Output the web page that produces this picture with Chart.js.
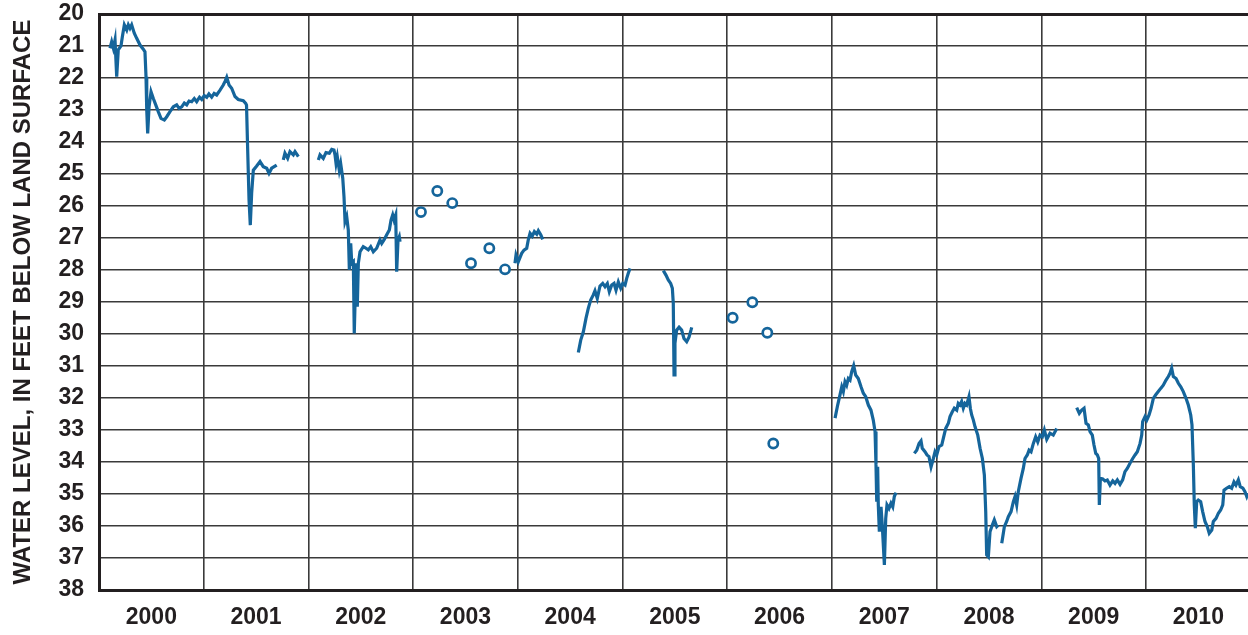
<!DOCTYPE html>
<html>
<head>
<meta charset="utf-8">
<script src="https://cdn.jsdelivr.net/npm/chart.js@4.4.1/dist/chart.umd.min.js"></script>
<style>
  html, body { margin: 0; padding: 0; background: #ffffff; overflow: hidden; }
  #wrap { width: 1248px; height: 635px; }
</style>
</head>
<body>
<div id="wrap"><canvas id="chart" width="1248" height="635"></canvas></div>
<script>
// Continuous recorder record, depth to water (feet below land surface) by decimal year.
// Each array is one unbroken run of the recorder; gaps fall between arrays.
const rec2000 = [
  [2000.105,21.07],[2000.121,20.87],[2000.137,21.07],[2000.153,20.81],[2000.169,21.96],[2000.184,21.12],
  [2000.210,21.00],[2000.223,20.71],[2000.242,20.34],[2000.265,20.50],[2000.280,20.34],[2000.296,20.45],
  [2000.312,20.34],[2000.337,20.60],[2000.360,20.76],[2000.392,20.97],[2000.423,21.10],[2000.439,21.18],
  [2000.449,21.96],[2000.456,23.00],[2000.465,23.73],[2000.478,22.90],[2000.497,22.43],[2000.519,22.64],
  [2000.542,22.84],[2000.566,23.05],[2000.592,23.26],[2000.624,23.31],[2000.647,23.21],[2000.678,23.05],
  [2000.710,22.90],[2000.742,22.84],[2000.765,22.95],[2000.790,22.90],[2000.815,22.78],[2000.838,22.84],
  [2000.860,22.72],[2000.885,22.74],[2000.910,22.64],[2000.933,22.74],[2000.960,22.60],[2000.981,22.67],
  [2001.005,22.55],[2001.029,22.60],[2001.050,22.50],[2001.076,22.60],[2001.100,22.48],[2001.124,22.53],
  [2001.156,22.38],[2001.187,22.22],[2001.205,22.10],[2001.220,21.98],[2001.242,22.22],[2001.267,22.32],
  [2001.299,22.58],[2001.330,22.67],[2001.378,22.71],[2001.401,22.79],[2001.409,22.85],[2001.418,24.00],
  [2001.433,25.81],[2001.445,26.60],[2001.458,25.60],[2001.474,24.88],[2001.506,24.75],[2001.538,24.61],
  [2001.569,24.77],[2001.602,24.82],[2001.624,24.98],[2001.649,24.82],[2001.697,24.72]
];
const rec2001 = [
  [2001.760,24.56],[2001.776,24.35],[2001.802,24.51],[2001.824,24.30],[2001.856,24.40],[2001.872,24.30],[2001.904,24.46]
];
const rec2002 = [
  [2002.095,24.56],[2002.111,24.40],[2002.142,24.51],[2002.168,24.33],[2002.200,24.35],[2002.223,24.23],
  [2002.244,24.25],[2002.254,24.40],[2002.264,24.67],[2002.276,24.46],[2002.295,24.88],[2002.308,24.67],
  [2002.328,25.13],[2002.340,25.71],[2002.350,26.49],[2002.366,26.33],[2002.381,26.75],[2002.391,28.00],
  [2002.404,27.17],[2002.414,27.79],[2002.429,27.74],[2002.438,29.98],[2002.455,27.79],[2002.467,29.15],
  [2002.477,27.79],[2002.493,27.43],[2002.524,27.27],[2002.550,27.32],[2002.572,27.37],[2002.595,27.27],
  [2002.620,27.43],[2002.652,27.32],[2002.684,27.06],[2002.700,27.17],[2002.722,27.06],[2002.748,26.90],
  [2002.773,26.75],[2002.789,26.44],[2002.805,26.28],[2002.818,26.44],[2002.834,26.28],[2002.843,28.05],
  [2002.856,27.06],[2002.868,26.96],[2002.875,27.12]
];
const rec2004a = [
  [2003.973,27.79],[2003.983,27.53],[2004.005,27.74],[2004.037,27.48],[2004.059,27.38],[2004.085,27.32],
  [2004.100,27.06],[2004.117,26.85],[2004.138,26.94],[2004.158,26.80],[2004.181,26.88],[2004.196,26.77],
  [2004.219,26.90],[2004.238,27.04]
];
const rec2004b = [
  [2004.578,30.58],[2004.601,30.19],[2004.626,29.93],[2004.651,29.51],[2004.673,29.20],[2004.696,28.94],
  [2004.721,28.78],[2004.737,28.65],[2004.759,28.89],[2004.785,28.50],[2004.811,28.42],[2004.833,28.52],
  [2004.855,28.42],[2004.874,28.68],[2004.897,28.47],[2004.919,28.42],[2004.938,28.63],[2004.960,28.37],
  [2004.983,28.57],[2005.002,28.42],[2005.024,28.47],[2005.040,28.26],[2005.055,28.10],[2005.072,27.95]
];
const rec2005 = [
  [2005.390,28.02],[2005.415,28.16],[2005.437,28.31],[2005.460,28.42],[2005.476,28.57],[2005.485,29.04],
  [2005.492,31.28],[2005.501,30.29],[2005.517,29.88],[2005.540,29.79],[2005.565,29.88],[2005.587,30.14],
  [2005.613,30.24],[2005.635,30.10],[2005.654,29.88],[2005.661,29.79]
];
const rec2007 = [
  [2007.030,32.63],[2007.055,32.22],[2007.077,31.90],[2007.094,31.65],[2007.109,31.80],[2007.125,31.49],
  [2007.141,31.60],[2007.157,31.39],[2007.173,31.44],[2007.189,31.18],[2007.208,30.99],[2007.227,31.28],
  [2007.252,31.39],[2007.278,31.65],[2007.300,31.85],[2007.323,31.96],[2007.348,32.22],[2007.373,32.38],
  [2007.395,32.69],[2007.412,33.05],[2007.421,34.09],[2007.428,35.24],[2007.437,34.15],[2007.443,35.34],
  [2007.453,36.18],[2007.469,35.40],[2007.481,35.97],[2007.501,37.22],[2007.514,35.76],[2007.526,35.34],
  [2007.545,35.45],[2007.564,35.29],[2007.581,35.40],[2007.596,35.08],[2007.612,34.96]
];
const rec2008a = [
  [2007.787,33.73],[2007.810,33.63],[2007.832,33.42],[2007.851,33.34],[2007.863,33.57],[2007.889,33.68],
  [2007.908,33.78],[2007.927,33.83],[2007.947,34.15],[2007.969,33.89],[2007.985,33.68],[2008.001,33.78],
  [2008.023,33.52],[2008.049,33.47],[2008.064,33.26],[2008.087,32.95],[2008.112,32.79],[2008.128,32.58],
  [2008.150,32.43],[2008.169,32.32],[2008.192,32.38],[2008.207,32.17],[2008.223,32.22],[2008.239,32.11],
  [2008.255,32.32],[2008.271,32.17],[2008.287,32.22],[2008.309,31.96],[2008.322,32.32],[2008.335,32.53],
  [2008.351,32.69],[2008.367,32.90],[2008.393,33.16],[2008.415,33.57],[2008.437,33.89],[2008.456,34.41],
  [2008.469,35.55],[2008.478,36.90],[2008.494,36.96],[2008.510,36.18],[2008.532,35.97],[2008.551,35.81],
  [2008.574,36.02],[2008.589,35.97]
];
const rec2008b = [
  [2008.622,36.54],[2008.647,36.02],[2008.669,35.86],[2008.685,35.71],[2008.711,35.55],[2008.733,35.24],
  [2008.749,35.08],[2008.765,35.34],[2008.780,34.93],[2008.806,34.51],[2008.828,34.20],[2008.844,33.89],
  [2008.866,33.78],[2008.883,33.63],[2008.902,33.68],[2008.924,33.42],[2008.946,33.21],[2008.966,33.37],
  [2008.988,33.16],[2009.010,33.21],[2009.029,33.00],[2009.052,33.29],[2009.083,33.10],[2009.114,33.16],
  [2009.147,32.95]
];
const rec2009 = [
  [2009.338,32.30],[2009.363,32.48],[2009.386,32.38],[2009.408,32.32],[2009.427,32.79],[2009.449,32.84],
  [2009.465,33.05],[2009.487,33.16],[2009.503,33.47],[2009.520,33.73],[2009.535,33.78],[2009.548,33.89],
  [2009.554,35.34],[2009.564,34.51],[2009.587,34.53],[2009.608,34.59],[2009.630,34.56],[2009.656,34.72],
  [2009.682,34.59],[2009.704,34.67],[2009.726,34.56],[2009.752,34.70],[2009.777,34.56],[2009.799,34.30],
  [2009.821,34.20],[2009.847,34.04],[2009.873,33.89],[2009.895,33.78],[2009.917,33.68],[2009.943,33.42],
  [2009.959,33.16],[2009.968,32.74],[2009.991,32.58],[2010.007,32.69],[2010.029,32.53],[2010.048,32.32],
  [2010.070,32.01],[2010.093,31.90],[2010.117,31.80],[2010.140,31.70],[2010.165,31.60],[2010.191,31.44],
  [2010.213,31.33],[2010.229,31.23],[2010.245,31.07],[2010.261,31.33],[2010.287,31.39],[2010.309,31.54],
  [2010.332,31.65],[2010.356,31.80],[2010.382,32.01],[2010.404,32.22],[2010.427,32.53],[2010.439,32.84],
  [2010.452,34.09],[2010.461,35.34],[2010.471,36.07],[2010.484,35.24],[2010.499,35.19],[2010.522,35.24],
  [2010.541,35.55],[2010.563,35.86],[2010.585,36.02],[2010.604,36.23],[2010.628,36.13],[2010.643,35.86],
  [2010.669,35.76],[2010.691,35.60],[2010.713,35.50],[2010.733,35.34],[2010.745,34.88],[2010.769,34.82],
  [2010.795,34.77],[2010.818,34.82],[2010.840,34.62],[2010.859,34.72],[2010.882,34.56],[2010.900,34.77],
  [2010.925,34.82],[2010.945,34.93],[2010.962,35.08],[2010.974,34.98]
];

// Periodic field (tape) measurements
const fieldYears  = [2003.075, 2003.231, 2003.374, 2003.553, 2003.728, 2003.878, 2006.052, 2006.240, 2006.383, 2006.440];
const fieldLevels = [26.19,    25.53,    25.91,    27.79,    27.32,    27.98,    29.49,    29.01,    29.96,    33.42];

// Axis labels
const yearLabels = ['2000','2001','2002','2003','2004','2005','2006','2007','2008','2009','2010'];
const depthTicks = [20,21,22,23,24,25,26,27,28,29,30,31,32,33,34,35,36,37,38];

const recorderRuns = [rec2000, rec2001, rec2002, rec2004a, rec2004b, rec2005, rec2007, rec2008a, rec2008b, rec2009];

// Join the runs into one series, with a null between runs so the line breaks.
const recorderPoints = [];
recorderRuns.forEach((run, i) => {
  if (i > 0) {
    const prev = recorderRuns[i - 1];
    recorderPoints.push({ x: (prev[prev.length - 1][0] + run[0][0]) / 2, y: null });
  }
  run.forEach(([x, y]) => recorderPoints.push({ x, y }));
});
const fieldPoints = fieldYears.map((x, i) => ({ x, y: fieldLevels[i] }));

const INK = '#231f20';
const GRID = '#3a3a3a';
const BLUE = '#15659b';
const FONT = '"Liberation Sans", Arial, Helvetica, sans-serif';

const xStart = 2000;
const xEnd = 2010.974;

new Chart(document.getElementById('chart'), {
  data: {
    datasets: [
      {
        type: 'scatter',
        data: fieldPoints,
        showLine: false,
        pointRadius: 4.6,
        pointBorderWidth: 2.7,
        pointBorderColor: BLUE,
        pointBackgroundColor: '#ffffff',
        order: 0
      },
      {
        type: 'line',
        data: recorderPoints,
        borderColor: BLUE,
        borderWidth: 3.2,
        pointRadius: 0,
        spanGaps: false,
        tension: 0,
        fill: false,
        order: 1
      }
    ]
  },
  options: {
    responsive: false,
    animation: false,
    devicePixelRatio: 1,
    layout: { autoPadding: false, padding: { top: 14, right: 0, bottom: 0, left: 0 } },
    plugins: { legend: { display: false }, tooltip: { enabled: false } },
    scales: {
      x: {
        type: 'linear',
        min: xStart,
        max: xEnd,
        afterBuildTicks: (scale) => {
          const t = [];
          for (let i = 0; i < yearLabels.length; i++) {
            t.push({ value: xStart + i });
            t.push({ value: xStart + i + 0.5 });
          }
          scale.ticks = t;
        },
        afterFit: (scale) => {
          scale.height = 45;
          scale.paddingLeft = 0;
          scale.paddingRight = 0;
        },
        grid: {
          drawTicks: false,
          color: (c) => (c.tick && Number.isInteger(c.tick.value)) ? GRID : 'rgba(0,0,0,0)',
          lineWidth: 1.6
        },
        border: { display: true, color: INK, width: 3 },
        ticks: {
          autoSkip: false,
          maxRotation: 0,
          padding: 14,
          color: INK,
          font: { family: FONT, size: 23, weight: 'bold' },
          callback: (v) => Number.isInteger(v) ? '' : yearLabels[Math.floor(v) - xStart]
        }
      },
      y: {
        type: 'linear',
        reverse: true,
        min: depthTicks[0],
        max: depthTicks[depthTicks.length - 1],
        afterBuildTicks: (scale) => { scale.ticks = depthTicks.map(v => ({ value: v })); },
        afterFit: (scale) => {
          scale.width = 99;
          scale.paddingTop = 0;
          scale.paddingBottom = 0;
        },
        grid: {
          drawTicks: false,
          color: (c) => (c.tick && c.tick.value === depthTicks[0]) ? INK : GRID,
          lineWidth: (c) => (c.tick && c.tick.value === depthTicks[0]) ? 3 : 1.6
        },
        border: { display: true, color: INK, width: 3 },
        ticks: {
          padding: 15,
          color: INK,
          font: { family: FONT, size: 23, weight: 'bold' },
          callback: (v) => String(v)
        },
        title: {
          display: true,
          text: 'WATER LEVEL, IN FEET BELOW LAND SURFACE',
          color: INK,
          font: { family: FONT, size: 24, weight: 'bold' },
          padding: { top: 9, bottom: 0 }
        }
      }
    }
  }
});
</script>
</body>
</html>
